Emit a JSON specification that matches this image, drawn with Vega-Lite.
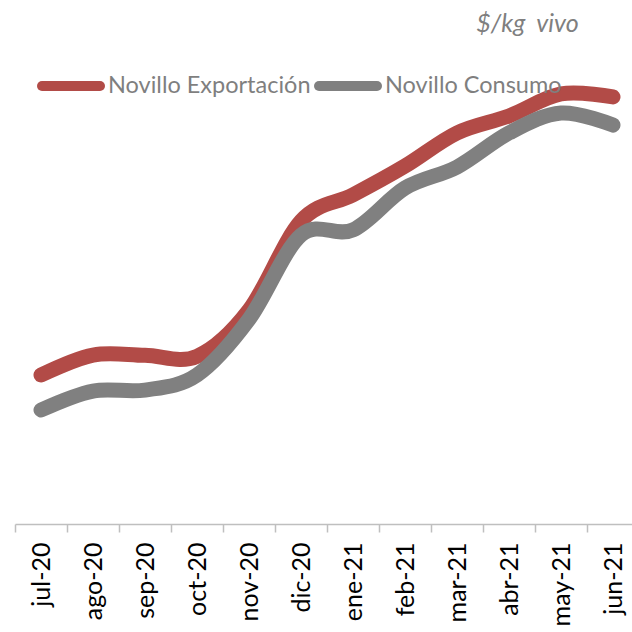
{
  "$schema": "https://vega.github.io/schema/vega-lite/v6.json",
  "autosize": "none",
  "width": 624,
  "height": 524,
  "padding": {"left": 15, "top": 0, "right": 0, "bottom": 108},
  "background": "white",
  "title": {
    "text": "$/kg\u00a0 vivo",
    "anchor": "end",
    "orient": "top",
    "offset": 0,
    "dx": -61,
    "dy": 57,
    "baseline": "alphabetic",
    "font": "Lato",
    "fontSize": 25,
    "fontStyle": "italic",
    "fontWeight": "normal",
    "color": "#7f7f7f"
  },
  "data": {
    "values": [
      {"mes": "jul-20", "serie": "Novillo Exportación", "valor": 1.455},
      {"mes": "ago-20", "serie": "Novillo Exportación", "valor": 1.516},
      {"mes": "sep-20", "serie": "Novillo Exportación", "valor": 1.515},
      {"mes": "oct-20", "serie": "Novillo Exportación", "valor": 1.512},
      {"mes": "nov-20", "serie": "Novillo Exportación", "valor": 1.653},
      {"mes": "dic-20", "serie": "Novillo Exportación", "valor": 1.925},
      {"mes": "ene-21", "serie": "Novillo Exportación", "valor": 2.005},
      {"mes": "feb-21", "serie": "Novillo Exportación", "valor": 2.093},
      {"mes": "mar-21", "serie": "Novillo Exportación", "valor": 2.194},
      {"mes": "abr-21", "serie": "Novillo Exportación", "valor": 2.246},
      {"mes": "may-21", "serie": "Novillo Exportación", "valor": 2.313},
      {"mes": "jun-21", "serie": "Novillo Exportación", "valor": 2.304},
      {"mes": "jul-20", "serie": "Novillo Consumo", "valor": 1.348},
      {"mes": "ago-20", "serie": "Novillo Consumo", "valor": 1.406},
      {"mes": "sep-20", "serie": "Novillo Consumo", "valor": 1.409},
      {"mes": "oct-20", "serie": "Novillo Consumo", "valor": 1.455},
      {"mes": "nov-20", "serie": "Novillo Consumo", "valor": 1.625},
      {"mes": "dic-20", "serie": "Novillo Consumo", "valor": 1.882},
      {"mes": "ene-21", "serie": "Novillo Consumo", "valor": 1.898},
      {"mes": "feb-21", "serie": "Novillo Consumo", "valor": 2.026},
      {"mes": "mar-21", "serie": "Novillo Consumo", "valor": 2.090},
      {"mes": "abr-21", "serie": "Novillo Consumo", "valor": 2.194},
      {"mes": "may-21", "serie": "Novillo Consumo", "valor": 2.255},
      {"mes": "jun-21", "serie": "Novillo Consumo", "valor": 2.218}
    ]
  },
  "mark": {
    "type": "line",
    "interpolate": "cardinal",
    "strokeWidth": 15,
    "strokeCap": "round",
    "strokeJoin": "round"
  },
  "encoding": {
    "x": {
      "field": "mes",
      "type": "ordinal",
      "bandPosition": 0.5,
      "sort": null,
      "scale": {"type": "band", "paddingInner": 0, "paddingOuter": 0},
      "axis": {
        "title": null,
        "labelAngle": -90,
        "labelFont": "Lato",
        "labelFontSize": 25,
        "labelColor": "#000000",
        "labelPadding": 10,
        "tickBand": "extent",
        "tickSize": 8,
        "tickColor": "#bfbfbf",
        "tickWidth": 1.5,
        "domainColor": "#bfbfbf",
        "domainWidth": 1.5,
        "grid": false
      }
    },
    "y": {
      "field": "valor",
      "type": "quantitative",
      "scale": {"domain": [1.0, 2.6], "zero": false, "nice": false},
      "axis": null
    },
    "color": {
      "field": "serie",
      "type": "nominal",
      "sort": ["Novillo Exportación", "Novillo Consumo"],
      "scale": {
        "domain": ["Novillo Exportación", "Novillo Consumo"],
        "range": ["#b24b47", "#808080"]
      },
      "legend": {
        "title": null,
        "orient": "none",
        "direction": "horizontal",
        "legendX": 22,
        "legendY": 52,
        "padding": 0,
        "symbolType": "stroke",
        "symbolSize": 3364,
        "symbolStrokeWidth": 10,
        "labelFont": "Lato",
        "labelFontSize": 23.5,
        "labelColor": "#7f7f7f",
        "labelOffset": 3,
        "columnPadding": -12,
        "labelLimit": 400,
        "encode": {"symbols": {"update": {"strokeCap": {"value": "round"}}}}
      }
    }
  },
  "config": {"view": {"stroke": null}}
}
